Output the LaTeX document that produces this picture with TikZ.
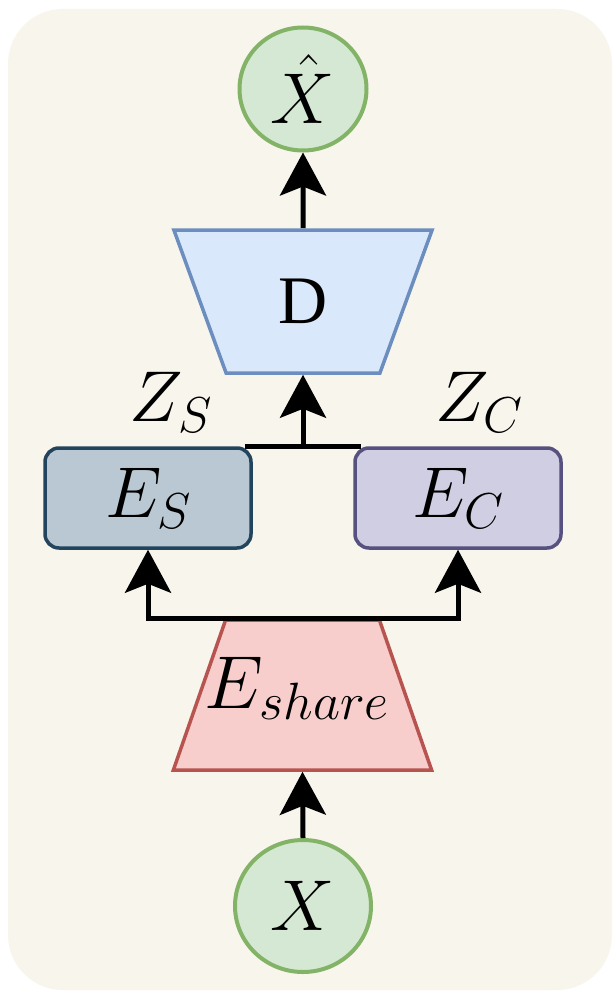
\documentclass[tikz,border=0pt]{standalone}
\usepackage{fix-cm}
\usepackage{fontspec}
\newfontfamily\dfont{Liberation Serif}
\usetikzlibrary{shapes.geometric,arrows.meta}
\definecolor{bgc}{HTML}{F8F5EC}
\definecolor{gfill}{HTML}{D5E8D4}\definecolor{gline}{HTML}{82B366}
\definecolor{bfill}{HTML}{DAE8FC}\definecolor{bline}{HTML}{6C8EBF}
\definecolor{rfill}{HTML}{F8CECC}\definecolor{rline}{HTML}{B85450}
\definecolor{sfill}{HTML}{BAC8D3}\definecolor{sline}{HTML}{23445D}
\definecolor{cfill}{HTML}{D0CEE2}\definecolor{cline}{HTML}{56517E}
\tikzset{
  big/.style={font=\fontsize{72}{84}\selectfont},
  circ/.style={ellipse, draw=gline, fill=gfill, line width=4pt, inner sep=0pt, big},
  encbox/.style={rectangle, rounded corners=14pt, line width=3.5pt, minimum width=206pt, minimum height=100pt, inner sep=0pt, big},
  trap/.style={trapezium, trapezium stretches=true, line width=3.5pt, minimum width=259pt, inner sep=0pt, big},
  arr/.style={line width=5pt, -{Stealth[length=43pt,width=46pt,inset=9pt]}},
  ln/.style={line width=5pt},
  lbl/.style={big}
}
\begin{document}
\begin{tikzpicture}[x=1pt,y=-1pt]
\useasboundingbox (0,0) rectangle (615,995);
\fill[white] (0,0) rectangle (615,995);
\fill[bgc, rounded corners=55pt] (8,9) rectangle (612,990);
\node[circ, minimum width=127pt, minimum height=123pt] (Xh) at (303,89) {$\hat{X}$};
\node[trap, draw=bline, fill=bfill, minimum height=143pt, trapezium left angle=71, trapezium right angle=71, shape border rotate=180] (D) at (303,301.5) {\phantom{X}};
\node[font=\dfont\fontsize{68}{80}\selectfont] (Dt) at (D.center) {D};
\node[encbox, draw=sline, fill=sfill] (ES) at (148,498) {$E_S$};
\node[encbox, draw=cline, fill=cfill] (EC) at (458,498) {$E_C$};
\node[trap, draw=rline, fill=rfill, minimum height=150pt, trapezium left angle=71, trapezium right angle=71] (Esh) at (302.5,695) {\phantom{X}};
\node[font=\fontsize{75}{88}\selectfont] (Esht) at (297,688) {$E_{share}$};
\node[circ, minimum width=136pt, minimum height=132pt] (X) at (303,906) {$X$};
\node[lbl] (ZS) at (171,402) {$Z_S$};
\node[lbl] (ZC) at (479,402) {$Z_C$};
\coordinate (jl) at ([xshift=-8pt]ES.north east);
\coordinate (jr) at ([xshift=8pt]EC.north west);
\draw[arr] (X.north) -- (Esh.south);
\draw[arr] (Esh.north) -| (ES.south);
\draw[arr] (Esh.north) -| (EC.south);
\draw[ln] (jl) -- (jr);
\draw[arr] (ES.north -| D.south) -- (D.south);
\draw[arr] (D.north) -- (Xh.south);
\end{tikzpicture}
\end{document}
